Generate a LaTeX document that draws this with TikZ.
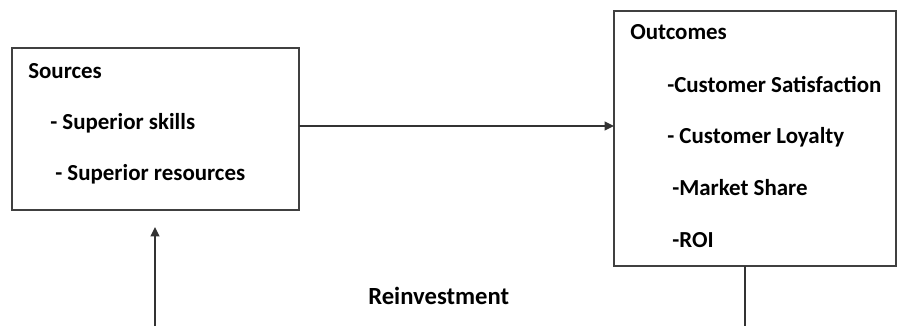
\documentclass[tikz,border=0pt]{standalone}
\usepackage{fontspec}
\setmainfont{Carlito}
\usetikzlibrary{arrows.meta}
\begin{document}
\begin{tikzpicture}[x=0.75pt,y=-0.75pt,>={Triangle[length=7pt,width=6.5pt]},
    font=\fontsize{17.2}{20}\selectfont\bfseries]
    \useasboundingbox (0,0) rectangle (898,326);
    \tikzset{box/.style={draw=black!75,line width=1.2pt,inner sep=0pt,outer sep=0pt},
             lbl/.style={anchor=base west,inner sep=0pt}}
    \node[box,minimum width=215.25pt,minimum height=121.5pt] (src) at (155.5,129) {};
    \node[box,minimum width=211.5pt,minimum height=191.25pt] (out) at (755,138.5) {};
    \node[lbl] (srchead) at (28,78) {Sources};
    \node[lbl] (src1) at (50,129) {- Superior skills};
    \node[lbl] (src2) at (55,180) {- Superior resources};
    \node[lbl] (outhead) at (630,39) {Outcomes};
    \foreach \i/\x/\y/\item in {
        1/667/92/-Customer Satisfaction,
        2/667/143/- Customer Loyalty,
        3/672/195/-Market Share,
        4/672/247/-ROI
    } {
        \node[lbl] (out\i) at (\x,\y) {\item};
    }
    \node[lbl,font=\fontsize{18.5}{20}\selectfont\bfseries] (reinv) at (368,304) {Reinvestment};
    \coordinate (loopl) at (155,326);
    \coordinate (tipl) at (155,227);
    \coordinate (loopr) at (745,326);
    \draw[->,line width=1.2pt,black!80] ([yshift=2.25pt]src.east) -- ([yshift=2.25pt]src.east -| out.west);
    \draw[->,line width=1.2pt,black!80] (loopl) -- (tipl);
    \draw[line width=1.2pt,black!80] (out.south -| loopr) -- (loopr);
\end{tikzpicture}
\end{document}
